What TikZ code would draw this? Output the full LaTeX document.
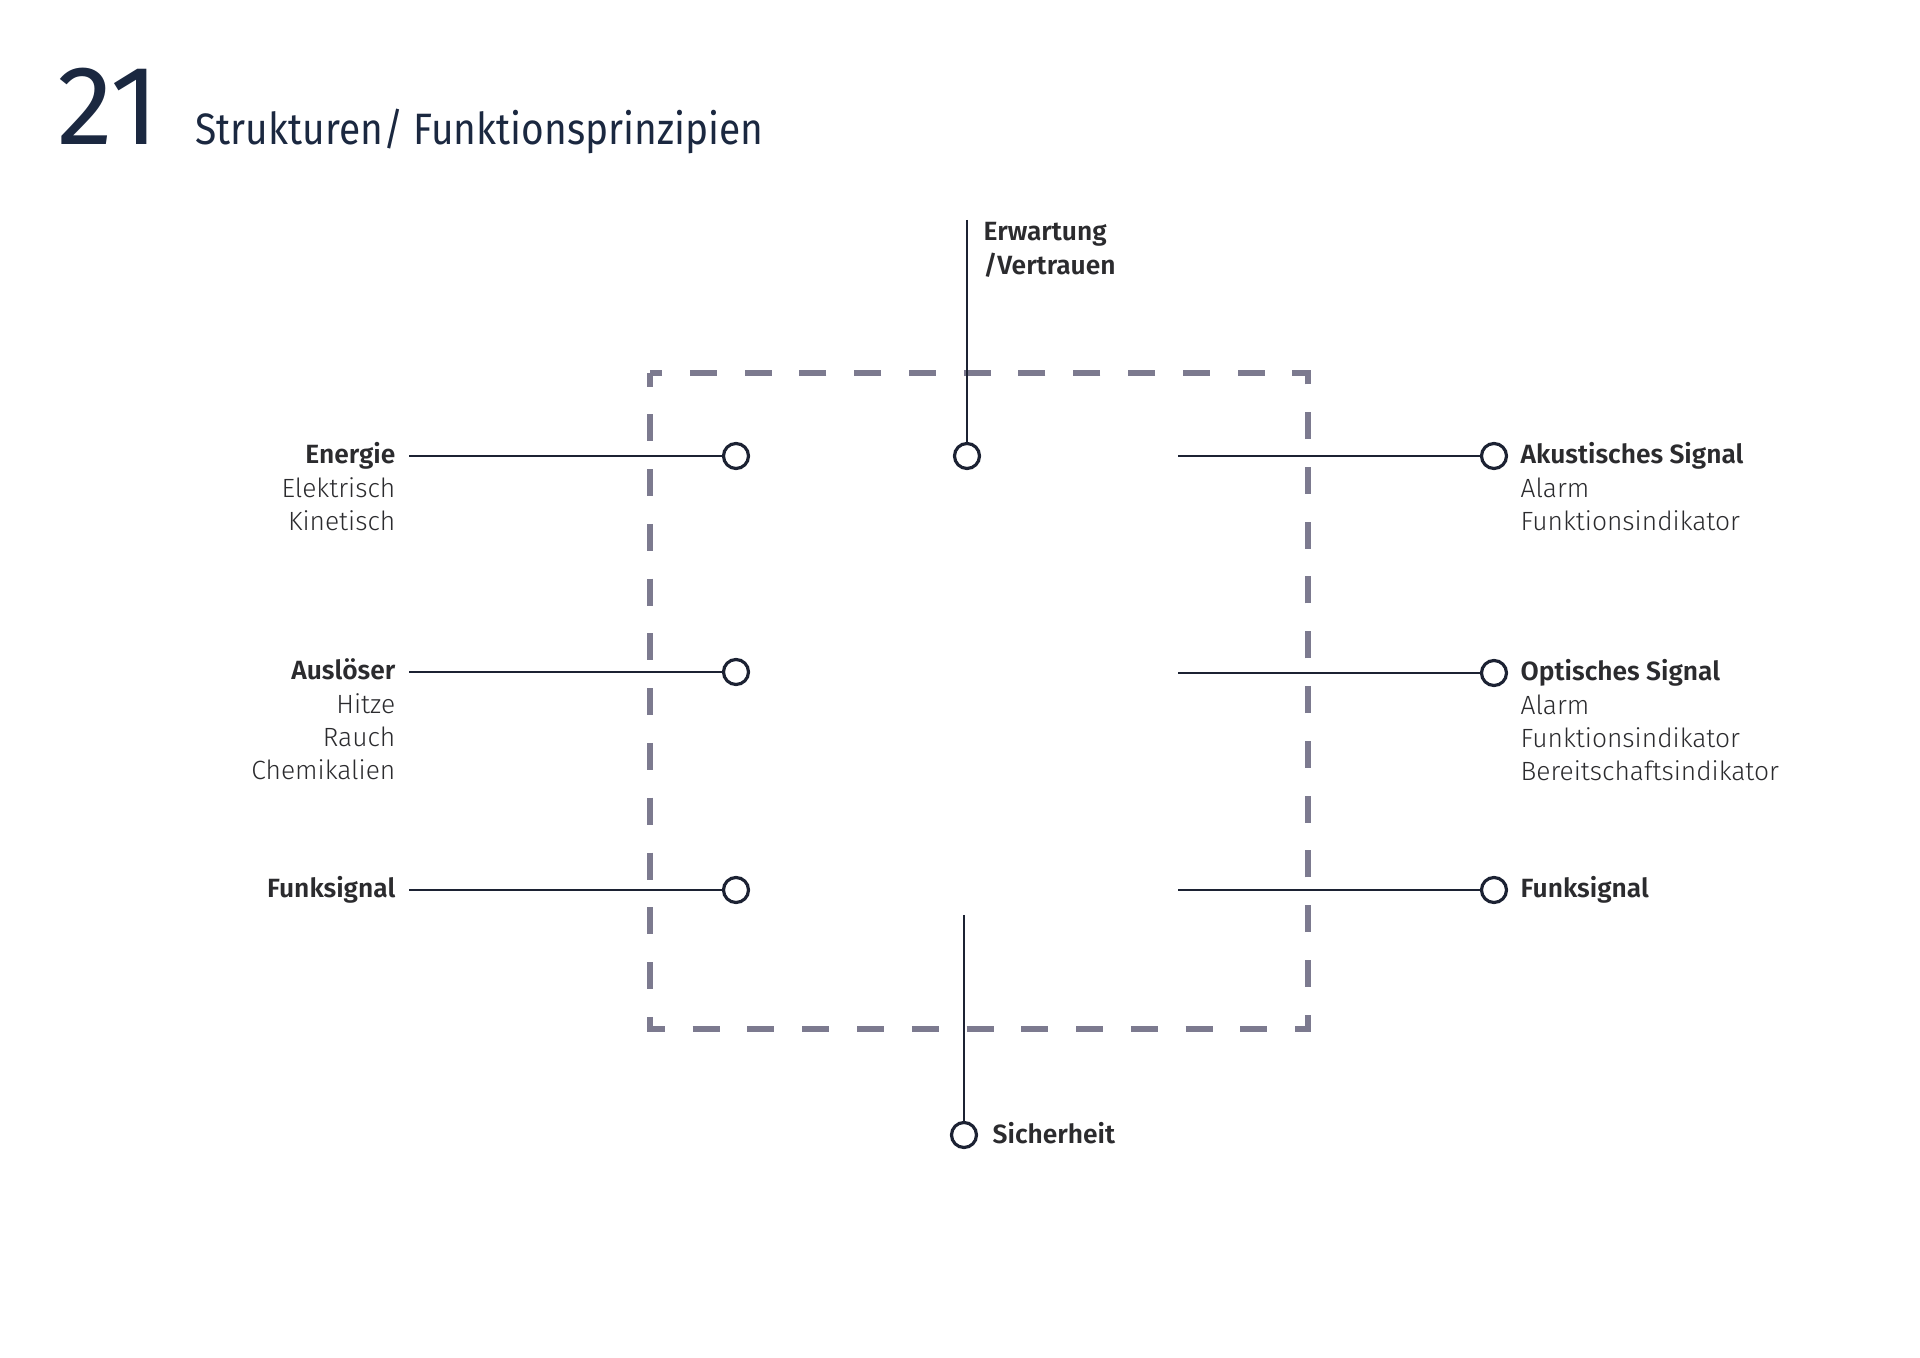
\documentclass[tikz,border=0pt]{standalone}
\usepackage{fontspec}
\setmainfont{Fira Sans}[UprightFont=* Light, BoldFont=* SemiBold]
\newfontfamily\numfont{Fira Sans}
\newfontfamily\titlefont{Fira Sans}[FakeStretch=0.885]
\usepackage{xcolor}
\usepackage{tikz}
\usetikzlibrary{positioning}

\definecolor{navy}{HTML}{1B2840}
\definecolor{ink}{HTML}{2B2B2E}
\definecolor{dashgray}{HTML}{7C7A8F}
\definecolor{wirecol}{HTML}{1C2233}

\begin{document}
\begin{tikzpicture}[
    x=0.01cm,
    y=0.01cm,
    font=\fontsize{7.5}{9.4}\selectfont,
    text=ink,
    head/.style={
      inner sep=0,
      font=\fontsize{7.5}{9.4}\selectfont\bfseries
    },
    sub/.style={
      inner sep=0
    },
    port/.style={
      draw=wirecol,
      circle,
      fill=white,
      line width=0.9pt,
      minimum size=2.5mm,
      inner sep=0
    },
    wire/.style={draw=wirecol, line width=0.7pt},
    dashbox/.style={
      draw=dashgray,
      line width=1.8pt,
      dash pattern=on 2.7mm off 2.775mm,
      dash phase=1.35mm
    }
]
\useasboundingbox (0,0) rectangle (1920,-1358);

% 1) Heading
\node[inner sep=0, anchor=base west, text=navy, font=\numfont\fontsize{32}{32}\selectfont] (num) at (57,-145) {21};
\node[inner sep=0, anchor=base west, text=navy, font=\titlefont\fontsize{12.5}{14}\selectfont] (title) at (195,-145) {Strukturen/ Funktionsprinzipien};

% 2) Dashed system boundary
\draw[dashbox] (650,-373) rectangle (1308,-1029);

% 3) Ports
\node[port] (pEnergie) at (736,-456) {};
\node[port] (pAusloeser) at (736,-672) {};
\node[port] (pFunkIn) at (736,-890) {};
\node[port] (pErwartung) at (967,-456) {};
\node[port] (pAkustisch) at (1494,-456) {};
\node[port] (pOptisch) at (1494,-673) {};
\node[port] (pFunkOut) at (1494,-890) {};
\node[port] (pSicherheit) at (964,-1135) {};

% free ends of the wires
\coordinate (cEnergie) at (409,-456);
\coordinate (cAusloeser) at (409,-672);
\coordinate (cFunkIn) at (409,-890);
\coordinate (cErwartung) at (967,-220);
\coordinate (cAkustisch) at (1178,-456);
\coordinate (cOptisch) at (1178,-673);
\coordinate (cFunkOut) at (1178,-890);
\coordinate (cSicherheit) at (964,-915);

% WIRES
\draw[wire] (cEnergie) -- (pEnergie);
\draw[wire] (cAusloeser) -- (pAusloeser);
\draw[wire] (cFunkIn) -- (pFunkIn);
\draw[wire] (cErwartung) -- (pErwartung);
\draw[wire] (cAkustisch) -- (pAkustisch);
\draw[wire] (cOptisch) -- (pOptisch);
\draw[wire] (cFunkOut) -- (pFunkOut);
\draw[wire] (cSicherheit) -- (pSicherheit);

% 4) Inputs (left)
\node[head, anchor=base east] (tEnergie) at (396,-464) {Energie};
\node[sub, below=3.3mm of tEnergie.base east, anchor=base east] (tElektrisch) {Elektrisch};
\node[sub, below=3.3mm of tElektrisch.base east, anchor=base east] (tKinetisch) {Kinetisch};

\node[head, anchor=base east] (tAusloeser) at (396,-680) {Auslöser};
\node[sub, below=3.3mm of tAusloeser.base east, anchor=base east] (tHitze) {Hitze};
\node[sub, below=3.3mm of tHitze.base east, anchor=base east] (tRauch) {Rauch};
\node[sub, below=3.3mm of tRauch.base east, anchor=base east] (tChemikalien) {Chemikalien};

\node[head, anchor=base east] (tFunkIn) at (396,-898) {Funksignal};

% 5) Outputs (right)
\node[head, anchor=base west] (tAkustisch) at (1520,-464) {Akustisches Signal};
\node[sub, below=3.3mm of tAkustisch.base west, anchor=base west] (tAlarmA) {Alarm};
\node[sub, below=3.3mm of tAlarmA.base west, anchor=base west] (tFunktionA) {Funktionsindikator};

\node[head, anchor=base west] (tOptisch) at (1520,-681) {Optisches Signal};
\node[sub, below=3.3mm of tOptisch.base west, anchor=base west] (tAlarmO) {Alarm};
\node[sub, below=3.3mm of tAlarmO.base west, anchor=base west] (tFunktionO) {Funktionsindikator};
\node[sub, below=3.3mm of tFunktionO.base west, anchor=base west] (tBereitschaft) {Bereitschaftsindikator};

\node[head, anchor=base west] (tFunkOut) at (1520,-898) {Funksignal};

% 6) Top and bottom
\node[head, anchor=base west] (tErwartung) at (983,-241) {Erwartung};
\node[head, below=3.3mm of tErwartung.base west, anchor=base west] (tVertrauen) {/Vertrauen};

\node[head, anchor=base west] (tSicherheit) at (992,-1143) {Sicherheit};

\end{tikzpicture}
\end{document}
